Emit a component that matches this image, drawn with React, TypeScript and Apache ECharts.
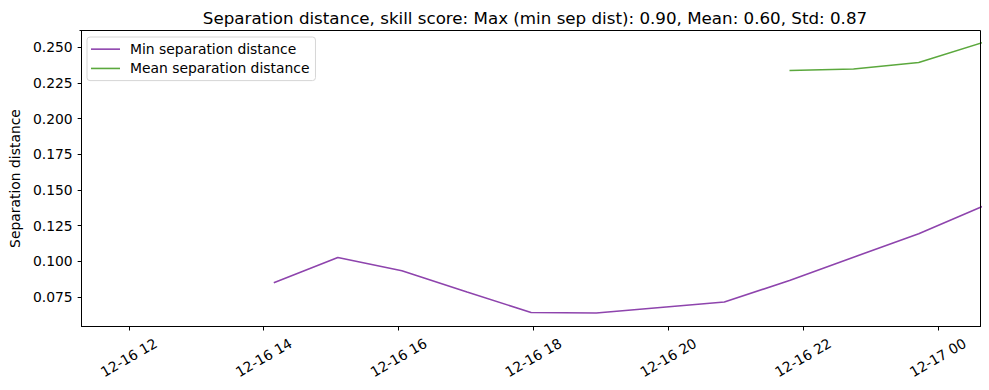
import React, { useEffect, useRef } from "react";
import * as echarts from "echarts";

const minTimes = [
  "2024-12-16 14:09", "2024-12-16 15:06", "2024-12-16 16:03", "2024-12-16 17:01",
  "2024-12-16 17:58", "2024-12-16 18:56", "2024-12-16 19:53", "2024-12-16 20:50",
  "2024-12-16 21:48", "2024-12-16 22:45", "2024-12-16 23:43", "2024-12-17 00:40",
];
const minSepValues = [0.085, 0.1027, 0.0934, 0.0785, 0.0642, 0.0638, 0.0677, 0.0715, 0.0866, 0.1029, 0.1193, 0.1385];
const meanTimes = ["2024-12-16 21:48", "2024-12-16 22:45", "2024-12-16 23:43", "2024-12-17 00:40"];
const meanSepValues = [0.2336, 0.2346, 0.2392, 0.2532];
const xTickTimes = [
  "2024-12-16 12:00", "2024-12-16 14:00", "2024-12-16 16:00", "2024-12-16 18:00",
  "2024-12-16 20:00", "2024-12-16 22:00", "2024-12-17 00:00",
];
const yTicks = [0.075, 0.1, 0.125, 0.15, 0.175, 0.2, 0.225, 0.25];
const xRange = ["2024-12-16 11:18", "2024-12-17 00:38"];
const yRange = [0.0544, 0.2616];

const TITLE = "Separation distance, skill score: Max (min sep dist): 0.90, Mean: 0.60, Std: 0.87";
const FONT = "DejaVu Sans";

function toMs(s: string): number {
  const [d, t] = s.split(" ");
  const [y, mo, da] = d.split("-").map(Number);
  const [h, mi] = t.split(":").map(Number);
  return Date.UTC(y, mo - 1, da, h, mi);
}
const pad = (n: number) => (n < 10 ? "0" + n : "" + n);
const LINE_ICON = "path://M0,0 L29,0 L29,1.6 L0,1.6 Z";

export default function App() {
  const ref = useRef<HTMLDivElement>(null);
  useEffect(() => {
    if (!ref.current) return;
    const chart = echarts.init(ref.current, null, { renderer: "svg" });
    const textStyle = { fontFamily: FONT, fontSize: 13.9, color: "#000" };
    chart.setOption({
      animation: false,
      backgroundColor: "#fff",
      title: {
        text: TITLE,
        left: 530,
        top: 4,
        textAlign: "center",
        textStyle: { fontFamily: FONT, fontSize: 16.7, fontWeight: "normal", color: "#000" },
      },
      grid: { left: 79.5, right: 8.5, top: 30.5, bottom: 63.5, show: false },
      legend: {
        orient: "vertical",
        left: 87,
        top: 37,
        padding: [5, 6, 5, 4],
        itemWidth: 29,
        itemHeight: 1.6,
        itemGap: 5,
        backgroundColor: "#fff",
        borderColor: "#d6d6d6",
        borderWidth: 1,
        borderRadius: 3,
        textStyle: { fontFamily: FONT, fontSize: 13.9, lineHeight: 14.3, color: "#000", padding: [0, 0, 0, 5] },
        data: [
          { name: "Min separation distance", icon: LINE_ICON },
          { name: "Mean separation distance", icon: LINE_ICON },
        ],
      },
      xAxis: {
        type: "value",
        min: toMs(xRange[0]),
        max: toMs(xRange[1]),
        axisLine: { show: true, onZero: false, lineStyle: { color: "#000", width: 1 } },
        axisTick: {
          show: true,
          length: 4,
          lineStyle: { color: "#000" },
          customValues: xTickTimes.map(toMs),
        },
        axisLabel: {
          ...textStyle,
          rotate: 30,
          align: "center",
          verticalAlign: "middle",
          margin: 31,
          customValues: xTickTimes.map(toMs),
          formatter: (v: number) => {
            const d = new Date(v);
            return pad(d.getUTCMonth() + 1) + "-" + pad(d.getUTCDate()) + " " + pad(d.getUTCHours());
          },
        },
        splitLine: { show: false },
      },
      yAxis: {
        type: "value",
        min: yRange[0],
        max: yRange[1],
        name: "Separation distance",
        nameLocation: "middle",
        nameGap: 55,
        nameTextStyle: { fontFamily: FONT, fontSize: 13.9, color: "#000" },
        axisLine: { show: true, onZero: false, lineStyle: { color: "#000", width: 1 } },
        axisTick: { show: true, length: 4, lineStyle: { color: "#000" }, customValues: yTicks },
        axisLabel: {
          ...textStyle,
          margin: 9,
          customValues: yTicks,
          formatter: (v: number) => v.toFixed(3),
        },
        splitLine: { show: false },
      },
      graphic: [
        {
          type: "line",
          shape: { x1: 980.5, y1: 30.5, x2: 980.5, y2: 326.5 },
          style: { stroke: "#000", lineWidth: 1 },
          z: 10,
        },
        {
          type: "line",
          shape: { x1: 79.5, y1: 30.5, x2: 980.5, y2: 30.5 },
          style: { stroke: "#000", lineWidth: 1 },
          z: 10,
        },
      ],
      series: [
        {
          name: "Min separation distance",
          type: "line",
          symbol: "none",
          clip: true,
          lineStyle: { color: "#8e44ad", width: 1.6 },
          itemStyle: { color: "#8e44ad" },
          data: minTimes.map((t, i) => [toMs(t), minSepValues[i]]),
        },
        {
          name: "Mean separation distance",
          type: "line",
          symbol: "none",
          clip: true,
          lineStyle: { color: "#5ba83d", width: 1.6 },
          itemStyle: { color: "#5ba83d" },
          data: meanTimes.map((t, i) => [toMs(t), meanSepValues[i]]),
        },
      ],
    });
    return () => chart.dispose();
  }, []);
  return <div ref={ref} style={{ width: 989, height: 390, position: "absolute", left: 0, top: 0 }} />;
}
